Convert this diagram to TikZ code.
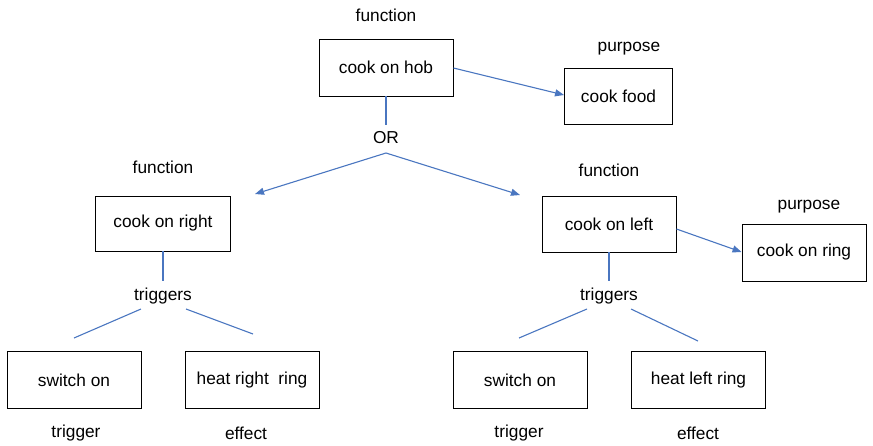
\documentclass[tikz,border=0pt]{standalone}
\usepackage{fontspec}
\setmainfont{Liberation Sans}
\usetikzlibrary{arrows.meta}
\definecolor{linkblue}{HTML}{4A76C0}
\begin{document}
\begin{tikzpicture}[x=1pt,y=-1pt,
  box/.style={draw=black, line width=0.9pt, minimum width=134pt, minimum height=57pt, inner sep=0pt, font=\fontsize{17.3}{19}\selectfont},
  lbl/.style={inner sep=1pt, font=\fontsize{17.3}{19}\selectfont},
  link/.style={draw=linkblue, line width=1.1pt},
  arr/.style={link, -{Triangle[length=9pt,width=7pt]}}]
\useasboundingbox (0,0) rectangle (873,445);
% boxes
\node[box] (hob) at (386,67.5) {cook on hob};
\node[box, minimum width=108pt, minimum height=56pt] (food) at (618.5,96.5) {cook food};
\node[box, minimum width=135pt, minimum height=55pt] (right) at (163,223.5) {cook on right};
\node[box, minimum width=134pt, minimum height=56pt] (left) at (609,224) {cook on left};
\node[box, minimum width=124pt, minimum height=57pt] (ring) at (804,252.5) {cook on ring};
\node[box] (swA) at (74,380) {switch on};
\node[box] (heatR) at (252,380) {heat right\ \ ring};
\node[box] (swB) at (520,380) {switch on};
\node[box] (heatL) at (698.5,380) {heat left ring};
% labels
\node[lbl] (f1) at (386,15) {function};
\node[lbl] (p1) at (629,49) {purpose};
\node[lbl] (or) at (386,138) {OR};
\node[lbl] (f2) at (163,167) {function};
\node[lbl] (f3) at (609,170) {function};
\node[lbl] (p2) at (809,207) {purpose};
\node[lbl] (trA) at (163,296) {triggers};
\node[lbl] (trB) at (609,296) {triggers};
\node[lbl] (t1) at (76,433) {trigger};
\node[lbl] (e1) at (246,433) {effect};
\node[lbl] (t2) at (519,433) {trigger};
\node[lbl] (e2) at (698,433) {effect};
% coordinates
\coordinate (orTop) at (386,125);
\coordinate (orBot) at (386,153);
\coordinate (orL) at (255,194);
\coordinate (orR) at (520,195);
\coordinate (rTop) at (163,281);
\coordinate (lTop) at (609,281);
\coordinate (aL1) at (141,309);
\coordinate (aL2) at (74,338);
\coordinate (aR1) at (186,309);
\coordinate (aR2) at (253,334);
\coordinate (bL1) at (587,309);
\coordinate (bL2) at (519,338);
\coordinate (bR1) at (631,309);
\coordinate (bR2) at (698,341);
% connectors
\draw[arr] (hob.east |- 0,68) -- (food.west |- 0,95);
\draw[link] (hob.south) -- (orTop);
\draw[arr] (orBot) -- (orL);
\draw[arr] (orBot) -- (orR);
\draw[arr] (left.east |- 0,229) -- (ring.west |- 0,252);
\draw[link] (right.south) -- (rTop);
\draw[link] (left.south) -- (lTop);
\draw[link] (aL1) -- (aL2);
\draw[link] (aR1) -- (aR2);
\draw[link] (bL1) -- (bL2);
\draw[link] (bR1) -- (bR2);
\end{tikzpicture}
\end{document}
